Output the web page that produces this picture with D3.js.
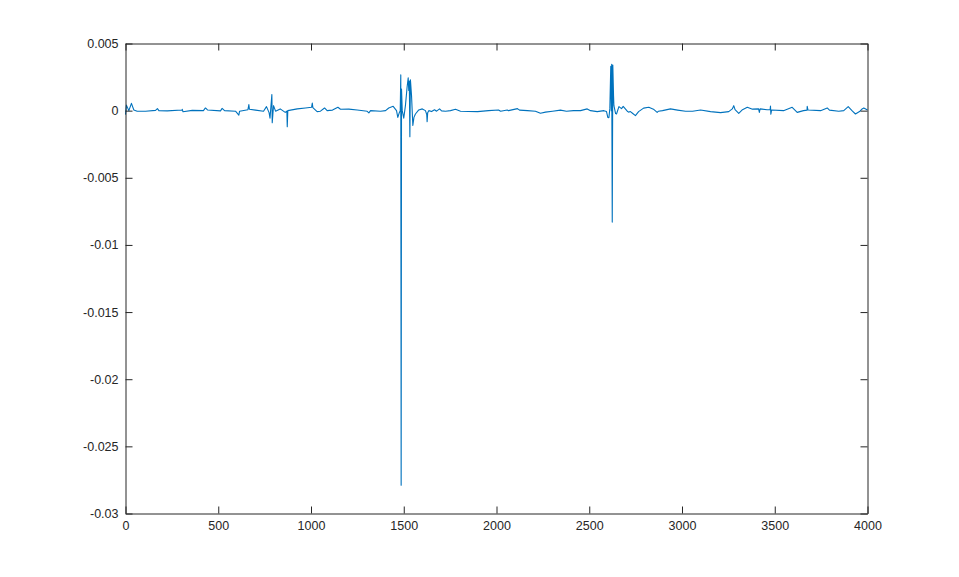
<!DOCTYPE html>
<html>
<head>
<meta charset="utf-8">
<script src="https://cdn.jsdelivr.net/npm/d3@7"></script>
<style>
  body { margin: 0; background: #fff; }
  .axis text { font-family: "Liberation Sans", Arial, sans-serif; font-size: 12.5px; fill: #262626; }
</style>
</head>
<body>
<div class="chart"></div>
<script>
// sample index along the record
const sampleIdx = [
  0, 5, 18, 32, 45, 63, 108, 162, 172, 180, 225, 305, 306, 310, 360, 420, 431, 442, 512, 521,
  534, 593, 611, 615, 660, 665, 668, 701, 744, 760, 774, 779, 789, 791, 798, 809, 834, 861, 870, 872,
  875, 926, 970, 1003, 1007, 1010, 1033, 1051, 1073, 1087, 1116, 1145, 1159, 1204, 1249, 1303, 1312, 1321, 1375, 1402,
  1419, 1443, 1461, 1468, 1476, 1481, 1484, 1486, 1488, 1492, 1500, 1509, 1518, 1524, 1527, 1530, 1533, 1536, 1542, 1549,
  1555, 1563, 1581, 1600, 1617, 1624, 1626, 1629, 1635, 1650, 1666, 1677, 1693, 1704, 1725, 1752, 1779, 1806, 1849, 1898,
  1957, 2011, 2022, 2058, 2065, 2113, 2124, 2167, 2210, 2237, 2264, 2302, 2345, 2377, 2415, 2453, 2489, 2507, 2543, 2579,
  2593, 2600, 2606, 2611, 2616, 2619, 2621, 2624, 2627, 2631, 2633, 2642, 2647, 2660, 2674, 2683, 2705, 2712, 2722, 2733,
  2749, 2766, 2793, 2821, 2846, 2866, 2873, 2895, 2938, 2976, 3019, 3057, 3100, 3154, 3208, 3252, 3271, 3279, 3286, 3306,
  3326, 3352, 3380, 3413, 3417, 3421, 3459, 3475, 3477, 3479, 3483, 3547, 3594, 3621, 3655, 3674, 3675, 3679, 3747, 3783,
  3795, 3845, 3872, 3896, 3919, 3935, 3957, 3971, 3980, 4000
];

// signal value at each sample above
const signal = [
  -0.0003, 0.00041, 0.0, 0.00054, 0.00005, -0.00005, -0.00004, 0.00002, 0.00015, 0.0, -0.00002, 0.00005, 0.0001, -0.00008, 0.00002, 0.0, 0.0002, 0.00005, -0.00002, 0.00017,
  0.0, -0.00004, -0.00033, -0.00004, 0.00007, 0.00045, 0.0001, 0.00004, -0.00004, 0.0003, -0.00015, -0.00056, 0.0012, -0.0009, 0.00037, -0.00004, 0.00013, -0.00013, -0.00004, -0.0012,
  0.0, 0.00013, 0.0002, 0.00025, 0.00056, 0.00022, -0.00007, -0.00004, 0.0002, 0.0, 0.00004, 0.00025, 0.0001, 0.00011, 0.00005, -0.00005, -0.00017, 0.0, -0.00005, 0.0,
  0.0002, 0.00032, 0.0, -0.0005, -0.00015, 0.0, 0.00266, -0.0279, 0.0016, 0.0, -0.00056, 0.00037, 0.00174, 0.00244, 0.0015, 0.0022, -0.00194, 0.0023, 0.0011, -0.0011,
  -0.0005, -0.00025, 0.00005, 0.00013, 0.0, -0.0003, -0.00082, -0.00015, 0.0, -0.00007, 0.00007, -0.00004, 0.00013, -0.00002, -0.00005, 0.0, 0.0001, -0.00004, -0.00006, -0.00007,
  0.0, 0.00005, -0.00004, 0.00005, 0.0, 0.00015, 0.00004, 0.0, -0.00004, -0.00019, -0.00011, -0.00004, 0.00004, -0.00004, 0.0, 0.0, 0.00013, 0.0, -0.00007, 0.0,
  -0.00007, -0.0005, -0.00052, 0.00015, 0.0033, 0.0, 0.00346, -0.0083, 0.0034, 0.0011, 0.00037, -0.00022, -0.00025, 0.0003, 0.00015, 0.00032, -0.00004, -0.00011, -0.00007, -0.00019,
  -0.00037, -0.00007, 0.00019, 0.00025, 0.00011, -0.00013, -0.00004, 0.0, 0.00013, 0.00004, -0.00005, -0.00005, 0.00005, -0.00007, -0.00015, -0.00007, 0.00013, 0.00037, 0.00007, -0.0002,
  0.00007, 0.00025, 0.00011, 0.00013, -0.00013, 0.00013, 0.00007, 0.00007, 0.00034, -0.00026, 0.00005, 0.0, 0.00025, -0.00013, 0.0, 0.00004, 0.00032, 0.00005, 0.0, 0.0002,
  0.00004, -0.00005, 0.0, 0.0003, -0.00004, -0.00025, -0.00007, 0.00013, 0.0002, 0.00005
];

const xTicks = [0, 500, 1000, 1500, 2000, 2500, 3000, 3500, 4000];
const yTicks = [0.005, 0, -0.005, -0.01, -0.015, -0.02, -0.025, -0.03];
const yTickLabels = ['0.005', '0', '-0.005', '-0.01', '-0.015', '-0.02', '-0.025', '-0.03'];

const margin = { top: 43, right: 92, bottom: 64, left: 125 };
const fullW = 959, fullH = 577;
const width = fullW - margin.left - margin.right;
const height = fullH - margin.top - margin.bottom;

const x = d3.scaleLinear().domain([0, 4000]).range([0, width]);
const y = d3.scaleLinear().domain([-0.03, 0.005]).range([height, 0]);

const svg = d3.select('.chart')
  .append('svg')
  .attr('width', fullW)
  .attr('height', fullH)
  .append('g')
  .attr('transform', `translate(${margin.left + 0.5},${margin.top + 0.5})`);

// the trace, drawn under the box
const line = d3.line()
  .x((d, i) => x(sampleIdx[i]))
  .y(d => y(d));

svg.append('path')
  .datum(signal)
  .attr('fill', 'none')
  .attr('stroke', '#0072BD')
  .attr('stroke-width', 1.1)
  .attr('stroke-linejoin', 'round')
  .attr('d', line);

const tickLen = 7;
const lblIndex = new Map(yTicks.map((t, i) => [t, yTickLabels[i]]));

// bottom and left axes carry labels, ticks point inward
const xAxis = d3.axisBottom(x).tickValues(xTicks).tickSizeInner(-tickLen).tickSizeOuter(0).tickPadding(8).tickFormat(d3.format('d'));
const yAxis = d3.axisLeft(y).tickValues(yTicks).tickSizeInner(-tickLen).tickSizeOuter(0).tickPadding(7).tickFormat(d => lblIndex.get(d));

const gx = svg.append('g').attr('class', 'axis').attr('transform', `translate(0,${height})`).call(xAxis);
const gy = svg.append('g').attr('class', 'axis').call(yAxis);

// top and right: ticks only
const gxt = svg.append('g').attr('class', 'axis')
  .call(d3.axisTop(x).tickValues(xTicks).tickSizeInner(-tickLen).tickSizeOuter(0).tickFormat(''));
const gyr = svg.append('g').attr('class', 'axis').attr('transform', `translate(${width},0)`)
  .call(d3.axisRight(y).tickValues(yTicks).tickSizeInner(-tickLen).tickSizeOuter(0).tickFormat(''));

svg.selectAll('.axis .domain').attr('stroke', '#262626');
svg.selectAll('.axis .tick line').attr('stroke', '#262626');
gx.selectAll('text').attr('dy', '0.71em');
</script>
</body>
</html>
